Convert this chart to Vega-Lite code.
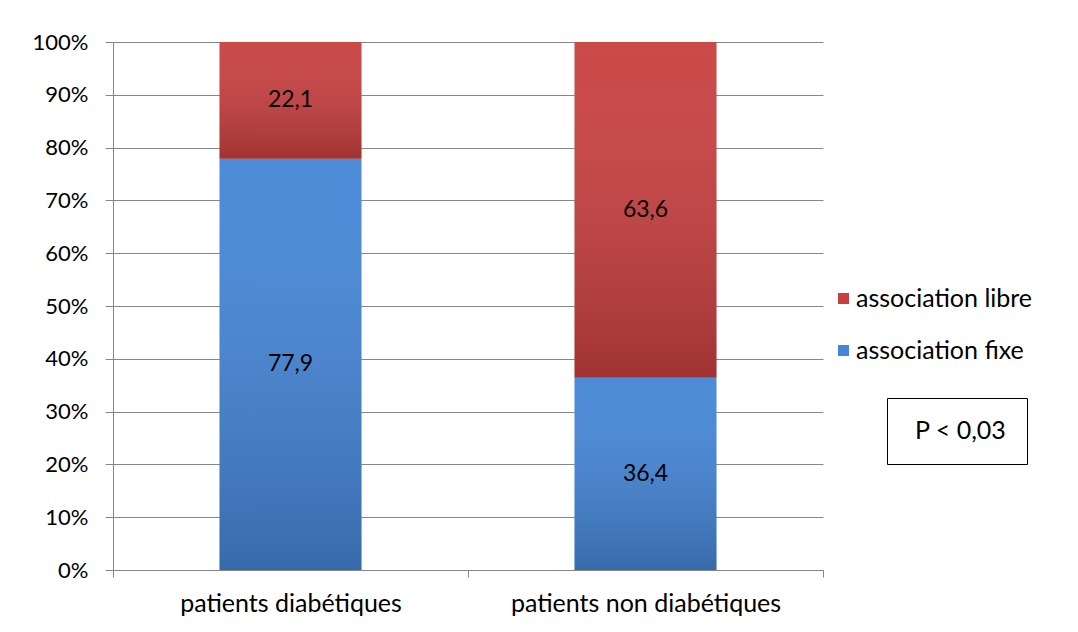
{
  "$schema": "https://vega.github.io/schema/vega-lite/v6.json",
  "width": 710,
  "height": 528,
  "autosize": "none",
  "padding": {"left": 113, "top": 42, "right": 255, "bottom": 62},
  "background": "white",
  "config": {
    "font": "Lato",
    "locale": {
      "number": {"decimal": ",", "thousands": " ", "grouping": [3], "currency": ["", " €"]}
    },
    "view": {"stroke": null},
    "axis": {
      "labelFont": "Lato",
      "labelColor": "#000000",
      "domainColor": "#868686",
      "tickColor": "#868686",
      "gridColor": "#868686",
      "domainWidth": 1,
      "tickWidth": 1,
      "gridWidth": 1
    }
  },
  "data": {
    "values": [
      {"group": "patients diabétiques", "series": "association fixe", "pct": 77.9},
      {"group": "patients diabétiques", "series": "association libre", "pct": 22.1},
      {"group": "patients non diabétiques", "series": "association fixe", "pct": 36.4},
      {"group": "patients non diabétiques", "series": "association libre", "pct": 63.6}
    ]
  },
  "layer": [
    {
      "mark": {"type": "bar", "width": {"band": 0.4}},
      "encoding": {
        "x": {
          "field": "group",
          "type": "nominal",
          "sort": null,
          "title": null,
          "scale": {"paddingInner": 0, "paddingOuter": 0},
          "axis": {
            "labelAngle": 0,
            "labelFontSize": 25,
            "labelLimit": 400,
            "labelPadding": 14,
            "tickSize": 7,
            "tickBand": "extent",
            "grid": false
          }
        },
        "y": {
          "field": "pct",
          "type": "quantitative",
          "stack": "normalize",
          "title": null,
          "scale": {"domain": [0, 1]},
          "axis": {
            "format": ".0%",
            "values": [0, 0.1, 0.2, 0.3, 0.4, 0.5, 0.6, 0.7, 0.8, 0.9, 1],
            "grid": true,
            "tickSize": 8,
            "labelPadding": 17,
            "labelFontSize": 22
          }
        },
        "color": {
          "field": "series",
          "type": "nominal",
          "scale": {
            "domain": ["association libre", "association fixe"],
            "range": ["#c83f3f", "#4485d6"]
          },
          "legend": {
            "title": null,
            "orient": "none",
            "legendX": 718,
            "legendY": 244,
            "symbolType": "square",
            "symbolSize": 121,
            "symbolStrokeWidth": 0,
            "labelFontSize": 25,
            "labelLimit": 400,
            "labelColor": "#000000",
            "labelOffset": 0,
            "rowPadding": 26,
            "padding": 0
          }
        },
        "order": {"field": "series", "sort": "ascending"}
      }
    },
    {
      "mark": {
        "type": "bar",
        "width": {"band": 0.4},
        "color": {
          "gradient": "linear",
          "x1": 0, "y1": 0, "x2": 0, "y2": 1,
          "stops": [
            {"offset": 0, "color": "rgba(255,255,255,0.05)"},
            {"offset": 1, "color": "rgba(0,0,0,0.2)"}
          ]
        }
      },
      "encoding": {
        "x": {"field": "group", "type": "nominal", "sort": null, "title": null},
        "y": {"field": "pct", "type": "quantitative", "stack": "normalize", "title": null},
        "detail": {"field": "series"},
        "order": {"field": "series", "sort": "ascending"}
      }
    },
    {
      "transform": [
        {
          "stack": "pct",
          "groupby": ["group"],
          "sort": [{"field": "series", "order": "ascending"}],
          "offset": "normalize",
          "as": ["lo", "hi"]
        },
        {"fold": ["lo", "hi"], "as": ["edge", "pos"]}
      ],
      "mark": {"type": "text", "fontSize": 23, "color": "#000000", "font": "Lato"},
      "encoding": {
        "x": {"field": "group", "type": "nominal", "sort": null, "title": null},
        "y": {"aggregate": "mean", "field": "pos", "type": "quantitative", "title": null},
        "detail": {"field": "series"},
        "text": {"aggregate": "mean", "field": "pct", "type": "quantitative", "format": ".1f"}
      }
    },
    {
      "data": {"values": [{"note": "P < 0,03"}]},
      "mark": {"type": "point", "opacity": 0, "size": 1},
      "encoding": {
        "shape": {
          "field": "note",
          "type": "nominal",
          "legend": {
            "title": null,
            "orient": "none",
            "legendX": 774,
            "legendY": 356,
            "strokeColor": "#000000",
            "padding": 20,
            "symbolSize": 1,
            "symbolOpacity": 0,
            "symbolStrokeWidth": 0,
            "labelOffset": -17,
            "labelFontSize": 25,
            "labelColor": "#000000"
          }
        }
      }
    }
  ]
}
